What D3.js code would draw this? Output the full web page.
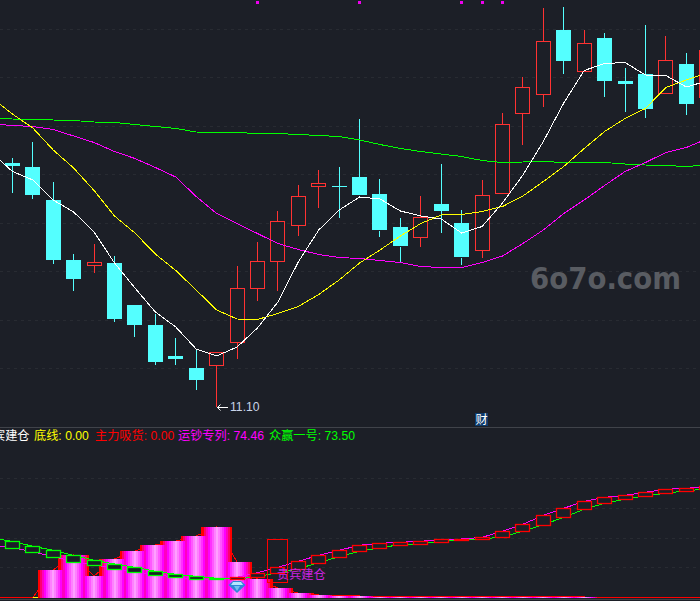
<!DOCTYPE html>
<html>
<head>
<meta charset="utf-8">
<script src="https://cdn.jsdelivr.net/npm/d3@7"></script>
<style>
  html, body { margin: 0; padding: 0; background: #1c1f27; overflow: hidden; }
  svg { display: block; }
  text { font-family: "Liberation Sans", "Noto Sans CJK SC", sans-serif; font-size: 12.2px; }
</style>
</head>
<body>
<svg id="chart" width="700" height="601"></svg>
<script>
// candles, index 0..34: [open, close, high, low]
const candles = [
  [15.98,15.93,16.08,15.39],[15.90,15.35,16.40,15.27],[15.24,14.04,15.60,13.97],[14.04,13.66,14.16,13.43],
  [13.93,13.98,14.36,13.79],[13.98,12.87,14.12,12.81],[13.14,12.74,13.14,12.51],[12.74,12.00,12.96,11.95],
  [12.12,12.06,12.48,11.95],[11.88,11.64,12.25,11.44],[11.93,12.19,12.19,11.10],[12.39,13.47,13.92,12.07],
  [13.47,14.01,14.40,13.23],[14.01,14.81,15.02,13.43],[14.73,15.31,15.54,14.53],[15.51,15.57,15.84,15.09],
  [15.52,15.50,15.90,14.89],[15.70,15.33,16.86,15.33],[15.36,14.63,15.66,14.51],[14.70,14.31,14.88,14.00],
  [14.49,14.89,15.32,14.31],[15.16,15.02,15.96,14.59],[14.78,14.09,15.04,13.95],[14.23,15.33,15.64,14.09],
  [15.37,16.75,16.98,15.37],[16.97,17.49,17.70,16.35],[17.35,18.41,19.08,17.11],[18.64,18.02,19.10,17.77],
  [17.81,18.37,18.64,17.81],[18.48,17.63,18.58,17.30],[17.62,17.56,17.88,17.01],[17.76,17.07,18.74,16.89],
  [17.37,18.03,18.52,17.37],[17.96,17.16,18.18,16.94],[17.29,18.24,18.24,17.29]
];

// moving averages, index -1..34
const maWhite = [16.18,15.81,15.64,15.24,15.00,14.60,13.98,13.48,13.00,12.70,12.26,12.12,12.30,12.68,13.20,14.00,14.64,15.04,15.30,15.26,15.02,14.92,14.86,14.58,14.71,15.18,15.74,16.41,17.18,17.83,17.97,17.99,17.74,17.73,17.50,17.62];
const maYellow = [17.28,16.96,16.68,16.24,15.88,15.43,14.92,14.58,14.16,13.83,13.44,13.04,12.86,12.85,12.97,13.11,13.35,13.64,13.98,14.24,14.52,14.77,14.94,14.95,15.01,15.11,15.32,15.61,15.91,16.27,16.61,16.87,17.07,17.49,17.64,17.78];
const maMagenta = [16.76,16.73,16.71,16.65,16.52,16.39,16.21,16.07,15.89,15.70,15.31,14.97,14.77,14.57,14.37,14.25,14.15,14.09,14.07,14.03,13.99,13.91,13.89,13.89,13.99,14.12,14.37,14.64,14.97,15.24,15.53,15.81,15.99,16.19,16.29,16.46];
const maGreen = [16.88,16.86,16.85,16.84,16.83,16.80,16.79,16.75,16.71,16.67,16.60,16.59,16.59,16.57,16.57,16.55,16.53,16.51,16.44,16.35,16.27,16.21,16.16,16.11,16.03,15.99,16.00,16.01,15.99,15.99,15.99,15.96,15.94,15.93,15.91,15.94];

// lower pane, index -1..34
const yunchao = [35.09,33.48,30.79,27.43,24.07,22.05,19.36,17.34,15.33,13.58,12.24,12.24,13.58,16.67,20.30,24.34,28.37,31.73,35.09,36.44,37.11,37.78,39.13,39.33,40.47,44.51,49.21,55.26,59.97,64.67,67.36,68.71,70.72,72.74,73.41,74.63];
const zhongying = [39.80,37.78,34.42,31.73,28.37,25.01,22.52,20.30,17.61,15.60,14.25,12.91,12.44,13.98,16.67,19.36,23.40,27.43,31.06,33.48,35.50,36.17,37.51,38.99,39.13,40.88,44.51,48.94,53.92,59.30,63.33,66.02,68.44,70.05,71.80,72.94];
const zhuli = [0,0,0,18.49,28.57,14.45,25.88,31.26,35.30,37.98,41.35,47.40,23.87,12.44,6.39,3.03,1.68,1.01,1.01,0.34,0.34,0.34,0.34,0.34,0.34,0.34,0.34,0.34,0.34,0.34,0,0,0,0,0,0];

const upperGrid = [18.65,17.68,16.71,15.75,14.77,13.81,12.83,11.87];
const lowerGrid = [20,40,60,80];
const topMarks = [12,17,22,23,24];
// column layers, widest first, each painted over all candles
const layerWidths = [30.6,26,22,18,14,10,6,2];
const layerColors = ["#ff0000","#ff0070","#ff00c0","#ff00ff","#ff30ff","#ff58ff","#ff80ff","#ffa0ff"];
const legend = [
  {label: "宾建仓", color: "#ffffff", at: -7},
  {label: "底线: 0.00", color: "#ffff00", at: 34},
  {label: "主力吸货: 0.00", color: "#ff0000", at: 95},
  {label: "运钞专列: 74.46", color: "#ff00ff", at: 178},
  {label: "众赢一号: 73.50", color: "#00ff00", at: 269}
];

const bg = "#1c1f27", up = "#ff3232", down = "#54ffff";
const svg = d3.select("#chart");

const x = d3.scaleLinear().domain([0, 34]).range([12.4, 706.7]);
const y = d3.scaleLinear().domain([11.10, 19.24]).range([407, 0]);
const y2 = d3.scaleLinear().domain([0, 100]).range([597.5, 448.75]);
const px = v => Math.floor(v) + 0.5;

// grid
svg.append("g").selectAll("line").data(upperGrid).enter().append("line")
  .attr("x1", 0).attr("x2", 700)
  .attr("y1", d => px(y(d))).attr("y2", d => px(y(d)))
  .attr("stroke", "#282b32").attr("stroke-dasharray", "3,4");
svg.append("g").selectAll("line").data(lowerGrid).enter().append("line")
  .attr("x1", 0).attr("x2", 700)
  .attr("y1", d => px(y2(d))).attr("y2", d => px(y2(d)))
  .attr("stroke", "#282b32").attr("stroke-dasharray", "3,4");

// watermark
svg.append("text").attr("x", 530).attr("y", 289).text("6o7o.com")
  .attr("textLength", 151).attr("lengthAdjust", "spacingAndGlyphs")
  .style("font-family", "DejaVu Sans").style("font-size", "31px").style("font-weight", "bold")
  .attr("fill", "#595c62");

// candles
const c = svg.append("g").attr("shape-rendering", "crispEdges");
candles.forEach(function (d, i) {
  const rising = d[1] > d[0];
  const color = rising ? up : down;
  const top = y(Math.max(d[0], d[1])), bottom = y(Math.min(d[0], d[1]));
  const cx = px(x(i));
  c.append("line").attr("x1", cx).attr("x2", cx).attr("y1", y(d[2])).attr("y2", top).attr("stroke", color);
  c.append("line").attr("x1", cx).attr("x2", cx).attr("y1", bottom).attr("y2", y(d[3])).attr("stroke", color);
  if (rising) {
    c.append("rect").attr("x", cx - 7).attr("y", px(top)).attr("width", 14).attr("height", Math.max(1, Math.round(bottom - top)))
      .attr("fill", bg).attr("stroke", color);
  } else {
    c.append("rect").attr("x", cx - 7.5).attr("y", Math.round(top)).attr("width", 15).attr("height", Math.max(1, Math.round(bottom - top)))
      .attr("fill", color);
  }
});

// moving averages
const maLine = d3.line().x((d, i) => x(i - 1)).y(d => y(d));
[[maGreen, "#00ff00"], [maMagenta, "#ff00ff"], [maYellow, "#ffff00"], [maWhite, "#ffffff"]].forEach(function (s) {
  svg.append("path").datum(s[0]).attr("d", maLine)
    .attr("fill", "none").attr("stroke", s[1]).attr("shape-rendering", "crispEdges");
});

// little marks along the top
svg.append("g").selectAll("rect").data(topMarks).enter().append("rect")
  .attr("x", d => Math.floor(x(d)) - 1).attr("y", 1).attr("width", 3).attr("height", 3)
  .attr("fill", "#ee00ee");

// 财 tag
svg.append("rect").attr("x", 475).attr("y", 413).attr("width", 13).attr("height", 13).attr("fill", "#0d3a6b");
svg.append("text").attr("x", 481.5).attr("y", 424).attr("text-anchor", "middle").attr("fill", "#ffffff").text("财");

// low label
svg.append("line").attr("x1", 217).attr("x2", 228).attr("y1", 407.5).attr("y2", 407.5).attr("stroke", "#ffffff");
svg.append("path").attr("d", "M220.5,404.5L217.5,407.5L220.5,410.5").attr("fill", "none").attr("stroke", "#ffffff");
svg.append("text").attr("x", 230).attr("y", 411).attr("fill", "#c8d4e8").text("11.10");

// pane separators
svg.append("line").attr("x1", 0).attr("x2", 700).attr("y1", 427.5).attr("y2", 427.5).attr("stroke", "#40434a");
svg.append("line").attr("x1", 0).attr("x2", 700).attr("y1", 599.5).attr("y2", 599.5).attr("stroke", "#40434a");

// legend
svg.append("g").selectAll("text").data(legend).enter().append("text")
  .attr("x", d => d.at).attr("y", 440).attr("fill", d => d.color).text(d => d.label);

// 主力吸货 line and columns
const lowerLine = d3.line().x((d, i) => x(i - 1)).y(d => y2(d));
svg.append("path").datum(zhuli).attr("d", lowerLine).attr("fill", "none").attr("stroke", "#ff0000").attr("shape-rendering", "crispEdges");
svg.append("line").attr("x1", x(1)).attr("x2", x(1) + 5.5).attr("y1", 597.5).attr("y2", 597.5).attr("stroke", "#ffff00");
const columns = zhuli.map((v, i) => ({v: v, i: i - 1})).filter(d => d.v > 0);
layerWidths.forEach(function (w, l) {
  svg.append("g").attr("shape-rendering", "crispEdges").selectAll("rect")
    .data(columns).enter().append("rect")
    .attr("x", d => x(d.i) - w / 2).attr("width", w)
    .attr("y", d => Math.round(y2(d.v))).attr("height", d => 598 - Math.round(y2(d.v)))
    .attr("fill", layerColors[l]);
});

// 运钞专列 / 众赢一号 lines
svg.append("path").datum(yunchao).attr("d", lowerLine).attr("fill", "none").attr("stroke", "#ff00ff").attr("shape-rendering", "crispEdges");
svg.append("path").datum(zhongying).attr("d", lowerLine).attr("fill", "none").attr("stroke", "#00ff00").attr("shape-rendering", "crispEdges");

// boxes between the two lines, green falling, red rising
const boxes = svg.append("g");
yunchao.forEach(function (m, k) {
  const i = k - 1;
  if (i < 0) return;
  const g = zhongying[k];
  const t = Math.round(y2(Math.max(m, g))), b = Math.round(y2(Math.min(m, g)));
  boxes.append("rect").attr("x", px(x(i)) - 7).attr("y", t + 0.5).attr("width", 14).attr("height", Math.max(1, b - t))
    .attr("fill", bg).attr("stroke", m >= g ? "#ff0000" : "#00ff00").attr("stroke-width", 1.3);
});

// tall marker box on the signal candle
boxes.append("rect").attr("x", px(x(13)) - 10).attr("y", 539.5).attr("width", 20).attr("height", 43)
  .attr("fill", "none").attr("stroke", "#ff0000").attr("shape-rendering", "crispEdges");

// diamond on the low
const gem = svg.append("g").attr("transform", "translate(" + x(11) + ",581)");
gem.append("path").attr("d", "M-4,0H4L8.5,4L0,12L-8.5,4Z").attr("fill", "#2f86d8");
gem.append("path").attr("d", "M-4,1H4L6,4H-6Z").attr("fill", "#b5e6ff");
gem.append("path").attr("d", "M-3,5H3L0,10Z").attr("fill", "#6fc0f2");

// signal text
svg.append("text").attr("x", 277).attr("y", 579).attr("fill", "#cc22e0").text("贵宾建仓");
</script>
</body>
</html>
